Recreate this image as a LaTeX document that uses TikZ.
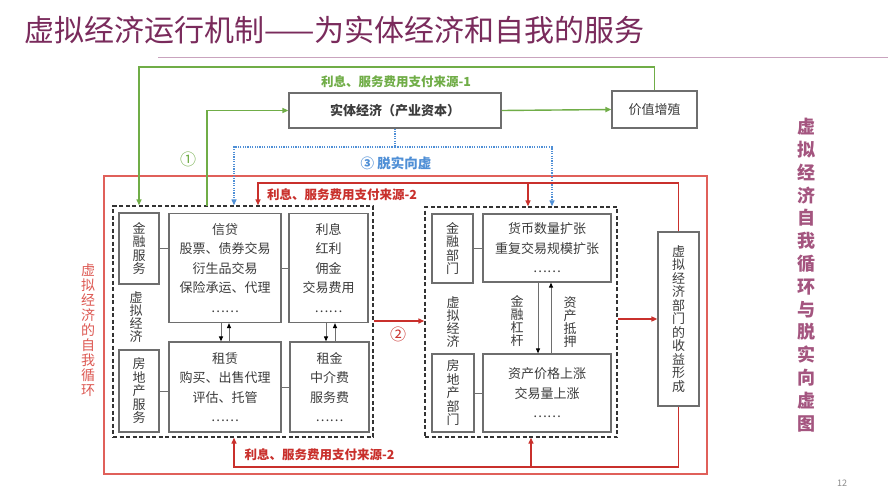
\documentclass[tikz,border=0pt]{standalone}
\usepackage{fontspec}
\setmainfont{Noto Sans CJK SC}
\usetikzlibrary{arrows.meta,calc}
\definecolor{tpurple}{HTML}{7A2B5C}
\definecolor{tline}{HTML}{C9A3BE}
\definecolor{ggreen}{HTML}{70AD47}
\definecolor{rred}{HTML}{C9302C}
\definecolor{rlight}{HTML}{E0605A}
\definecolor{bblue}{HTML}{4F8FD6}
\definecolor{bgray}{HTML}{6E6E6E}
\definecolor{tgray}{HTML}{3C3C3C}
\definecolor{rpurple}{HTML}{A4557F}
\begin{document}
\begin{tikzpicture}[x=1pt,y=-1pt,
  box/.style={draw=bgray, line width=1.2pt, fill=white, inner sep=0pt, text=tgray, font=\fontsize{13}{19.5}\selectfont, align=center},
  vbox/.style={box, font=\fontsize{13}{13.5}\selectfont},
  vlabel/.style={align=center, inner sep=0pt, text=tgray, font=\fontsize{13}{13}\selectfont},
  dbox/.style={draw=black!80, line width=1.4pt, dash pattern=on 4pt off 2.5pt, inner sep=0pt},
  garrow/.style={draw=ggreen, line width=1.4pt, -{Triangle[length=6pt,width=5pt]}},
  rarrow/.style={draw=rred, line width=1.4pt, -{Triangle[length=6pt,width=5pt]}},
  bline/.style={draw=bblue, line width=1.3pt, dash pattern=on 1.2pt off 1.2pt},
  barrow/.style={bline, -{Triangle[length=6pt,width=5pt]}},
  conn/.style={draw=bgray, line width=1pt},
  karrow/.style={draw=bgray, line width=1pt, -{Triangle[length=5pt,width=4pt,color=black]}},
  lab/.style={inner sep=0pt, font=\fontsize{12.5}{12.5}\selectfont\bfseries}
]
\useasboundingbox[fill=white] (0,0) rectangle (888,493);

% title
\node[anchor=west, inner sep=0pt, text=tpurple, font=\fontsize{30}{30}\selectfont] (title) at (24,30) {虚拟经济运行机制——为实体经济和自我的服务};
\coordinate (ul1) at (158,57);
\coordinate (ul2) at (888,57);
\draw[draw=tline, line width=1pt] (ul1) -- (ul2);

% outer red frame
\draw[draw=rlight, line width=1.2pt] (104,176) rectangle (707,474);

% dashed groups
\node[dbox, minimum width=260pt, minimum height=231pt] (lbox) at (243,321.5) {};
\node[dbox, minimum width=192pt, minimum height=230pt] (rbox) at (521,322) {};

% top boxes
\node[box, font=\fontsize{13}{13}\selectfont\bfseries, minimum width=212pt, minimum height=35pt] (sjjj) at (395,110.5) {实体经济（产业资本）};
\node[box, font=\fontsize{13}{13}\selectfont, minimum width=85pt, minimum height=37pt] (jzzz) at (654.5,109.5) {价值增殖};

% left inner boxes
\node[vbox, minimum width=40pt, minimum height=71pt] (jrfw) at (139,248.5) {金\\融\\服\\务};
\node[box, minimum width=112pt, minimum height=109pt] (xd) at (225,268) {信贷\\股票、债券交易\\衍生品交易\\保险承运、代理\\……};
\node[box, minimum width=79pt, minimum height=109pt] (lx) at (328.5,268) {利息\\红利\\佣金\\交易费用\\……};
\node[vbox, minimum width=40pt, minimum height=82pt] (fdcfw) at (139,391) {房\\地\\产\\服\\务};
\node[box, minimum width=112pt, minimum height=90pt] (zl) at (225,387) {租赁\\购买、出售代理\\评估、托管\\……};
\node[box, minimum width=79pt, minimum height=90pt] (zj) at (329.5,387) {租金\\中介费\\服务费\\……};
\node[vlabel] (xnjj1) at (136,316.5) {虚\\拟\\经\\济};

% right inner boxes
\node[vbox, minimum width=41pt, minimum height=69pt] (jrbm) at (452.5,248.5) {金\\融\\部\\门};
\node[box, minimum width=128pt, minimum height=68pt] (hb) at (547,248) {货币数量扩张\\重复交易规模扩张\\……};
\node[vbox, minimum width=42pt, minimum height=78pt] (fdcbm) at (453,393) {房\\地\\产\\部\\门};
\node[box, minimum width=128pt, minimum height=78pt] (zc) at (547,393) {资产价格上涨\\交易量上涨\\……};
\node[vlabel] (xnjj2) at (453,322) {虚\\拟\\经\\济};
\node[vlabel] (jrgg) at (517,321) {金\\融\\杠\\杆};
\node[vlabel] (zcdy) at (570,322) {资\\产\\抵\\押};

% income box
\node[vbox, minimum width=41pt, minimum height=174pt] (sy) at (678.5,319) {虚\\拟\\经\\济\\部\\门\\的\\收\\益\\形\\成};

% grey connectors
\draw[conn] (jrfw.east) -- (xd.west |- jrfw.east);
\draw[conn] (xd.east) -- (lx.west);
\draw[conn] (fdcfw.east) -- (zl.west |- fdcfw.east);
\draw[conn] (zl.east) -- (zj.west);
\draw[conn] (jrbm.east) -- (hb.west |- jrbm.east);
\draw[conn] (fdcbm.east) -- (zc.west |- fdcbm.east);
\draw[karrow] ([xshift=-4pt]xd.south) -- ([xshift=-4pt]zl.north);
\draw[karrow] ([xshift=4pt]zl.north) -- ([xshift=4pt]xd.south);
\draw[karrow] ([xshift=-2.5pt]lx.south) -- ([xshift=-2.5pt]lx.south |- zj.north);
\draw[karrow] ([xshift=6.5pt]lx.south |- zj.north) -- ([xshift=6.5pt]lx.south);
\draw[karrow] ([xshift=-9pt]hb.south) -- ([xshift=-9pt]zc.north);
\draw[karrow] ([xshift=4pt]zc.north) -- ([xshift=4pt]hb.south);

% green connectors
\coordinate (gtl) at (139,67);
\coordinate (g1) at (207,206);
\draw[garrow] (sjjj.east) -- (jzzz.west);
\draw[garrow] (jzzz.north) |- (gtl) -- (lbox.north -| jrfw.north);
\draw[garrow] (g1) |- (sjjj.west);
\node[lab, text=ggreen] (glab) at (396,82) {利息、服务费用支付来源-1};
\node[inner sep=0pt, text=ggreen, font=\fontsize{16}{16}\selectfont] (c1) at (188,159) {①};

% blue dotted
\coordinate (b1) at (234,147);
\coordinate (b2) at (552,147);
\draw[bline] (sjjj.south) -- (sjjj.south |- b1);
\draw[barrow] (sjjj.south |- b1) -| (lbox.north -| b1);
\draw[barrow] (sjjj.south |- b1) -| (rbox.north -| b2);
\node[inner sep=0pt, text=bblue, font=\fontsize{13.5}{13.5}\selectfont\bfseries] (c3) at (396,163) {③ 脱实向虚};

% red connectors
\coordinate (r1) at (258,183);
\coordinate (r2) at (528,183);
\coordinate (r3) at (234,467);
\coordinate (r4) at (531,467);
\coordinate (m2) at (373,321);
\draw[rarrow] (sy.north) |- (r1) -- (lbox.north -| r1);
\draw[rarrow] (r2) -- (rbox.north -| r2);
\draw[rarrow] (sy.south) |- (r3) -- (lbox.south -| r3);
\draw[rarrow] (r4) -- (rbox.south -| r4);
\draw[rarrow] (lbox.east |- m2) -- (rbox.west |- m2);
\draw[rarrow] (rbox.east |- sy) -- (sy.west);
\node[lab, text=rred] (rlab1) at (342,195) {利息、服务费用支付来源-2};
\node[lab, text=rred] (rlab2) at (319.5,455) {利息、服务费用支付来源-2};
\node[inner sep=0pt, text=rred, font=\fontsize{16}{16}\selectfont] (c2) at (398,334) {②};

% side labels
\node[align=center, inner sep=0pt, text=rlight!85!rred, font=\fontsize{14}{15}\selectfont] (lside) at (88,330) {虚\\拟\\经\\济\\的\\自\\我\\循\\环};
\node[align=center, inner sep=0pt, text=rpurple, font=\fontsize{18}{22.8}\selectfont\bfseries] (rside) at (806,275) {虚\\拟\\经\\济\\自\\我\\循\\环\\与\\脱\\实\\向\\虚\\图};
\node[inner sep=0pt, text=black!45, font=\fontsize{9}{9}\selectfont] (pg) at (842,483) {12};
\end{tikzpicture}
\end{document}
